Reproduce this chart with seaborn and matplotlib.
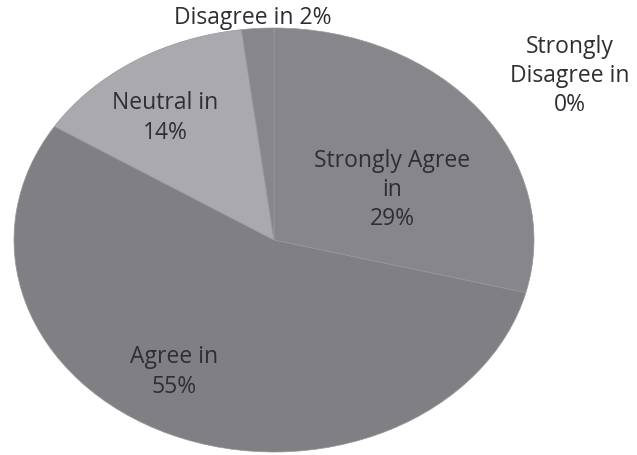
import matplotlib.pyplot as plt
import seaborn as sns

# slices, clockwise from 12 o'clock
labels = ['Strongly Agree\nin\n29%', 'Agree in\n55%', 'Neutral in\n14%',
          'Disagree in 2%', 'Strongly\nDisagree in\n0%']
values = [29, 55, 14, 2, 0]
colors = ['#86868b', '#7f7f84', '#aaaaae', '#86868b', '#86868b']

sns.set_theme(style="white")
plt.rcParams['font.family'] = ['Open Sans', 'DejaVu Sans']

fig = plt.figure(figsize=(6.37, 4.55), dpi=100)
# stretched pie -> ellipse, like the original chart
ax = fig.add_axes([14 / 637, 3 / 455, 520 / 637, 424 / 455])
wedges, _ = ax.pie(values, colors=colors, startangle=90, counterclock=False,
                   wedgeprops=dict(linewidth=0.5, edgecolor='#96969c'))
ax.set_aspect('auto')
ax.set_xlim(-1, 1)
ax.set_ylim(-1, 1)
ax.axis('off')

# label positions in figure pixels (x, y from top)
label_pos = [(392, 190), (174, 372), (165, 118), (253, 18), (570, 76)]
for text, (px, py) in zip(labels, label_pos):
    fig.text(px / 637, 1 - py / 455, text, ha='center', va='center',
             fontsize=16.5, color='#2e2e33', linespacing=1.3)

plt.savefig('out.png', dpi=100)
plt.close()
